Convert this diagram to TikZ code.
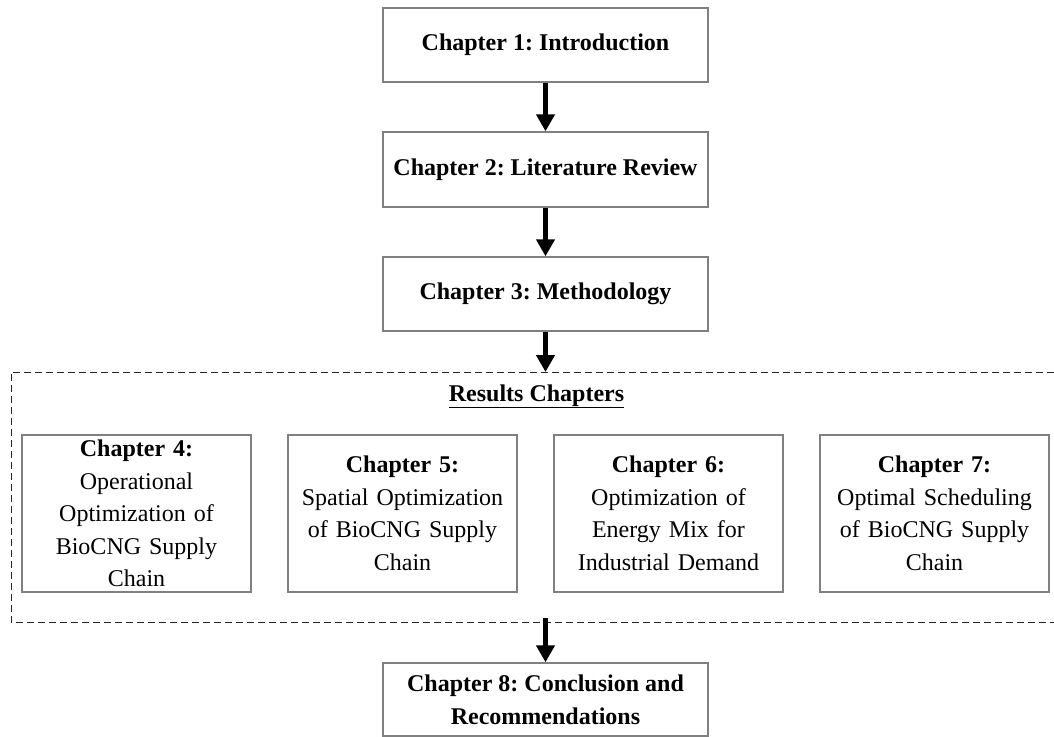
\documentclass[tikz,border=0pt]{standalone}
\usepackage{fontspec}
\setmainfont{Liberation Serif}
\usetikzlibrary{arrows.meta}
\definecolor{boxgray}{HTML}{808080}
\frenchspacing
\begin{document}
\begin{tikzpicture}[x=1pt,y=-1pt,
  mainbox/.style={draw=boxgray, line width=1.4pt, minimum width=325pt, minimum height=74pt,
    align=center, inner sep=0pt, font=\fontsize{24}{33}\selectfont\bfseries},
  chapbox/.style={draw=boxgray, line width=1.4pt, minimum width=229pt, minimum height=157pt,
    text width=225pt, align=center, inner sep=0pt, font=\fontsize{24}{32.5}\selectfont},
  flow/.style={line width=5pt, -{Triangle[width=18pt,length=17pt]}},
  groupline/.style={draw=black!85, line width=1pt, dash pattern=on 7pt off 4pt}]
\useasboundingbox (0,0) rectangle (1054,736);

\node[mainbox] (b1) at (545.5,45) {Chapter 1: Introduction};
\node[mainbox, minimum height=75pt] (b2) at (545.5,169.5) {Chapter 2: Literature Review};
\node[mainbox] (b3) at (545.5,294) {Chapter 3: Methodology};

\draw[groupline] (1054,372) -| (11,622) -- (1054,622);
\coordinate (restop) at (545.5,372);
\coordinate (resbot) at (545.5,618);
\node[anchor=base, font=\fontsize{24}{32}\selectfont\bfseries] (restitle) at (536.5,401) {\underline{Results Chapters}};

\node[chapbox] (c4) at (136.5,513.5) {{\bfseries Chapter 4:}\\Operational\\Optimization of\\BioCNG Supply\\Chain};
\node[chapbox] (c5) at (402.5,513.5) {{\bfseries Chapter 5:}\\Spatial Optimization\\of BioCNG Supply\\Chain};
\node[chapbox] (c6) at (668.5,513.5) {{\bfseries Chapter 6:}\\Optimization of\\Energy Mix for\\Industrial Demand};
\node[chapbox] (c7) at (934.5,513.5) {{\bfseries Chapter 7:}\\Optimal Scheduling\\of BioCNG Supply\\Chain};

\node[mainbox, minimum height=73pt] (b8) at (545.5,699.5) {Chapter 8: Conclusion and\\Recommendations};

\draw[flow] (b1.south) -- (b2.north);
\draw[flow] (b2.south) -- (b3.north);
\draw[flow] (b3.south) -- (restop);
\draw[flow] (resbot) -- (b8.north);
\end{tikzpicture}
\end{document}
